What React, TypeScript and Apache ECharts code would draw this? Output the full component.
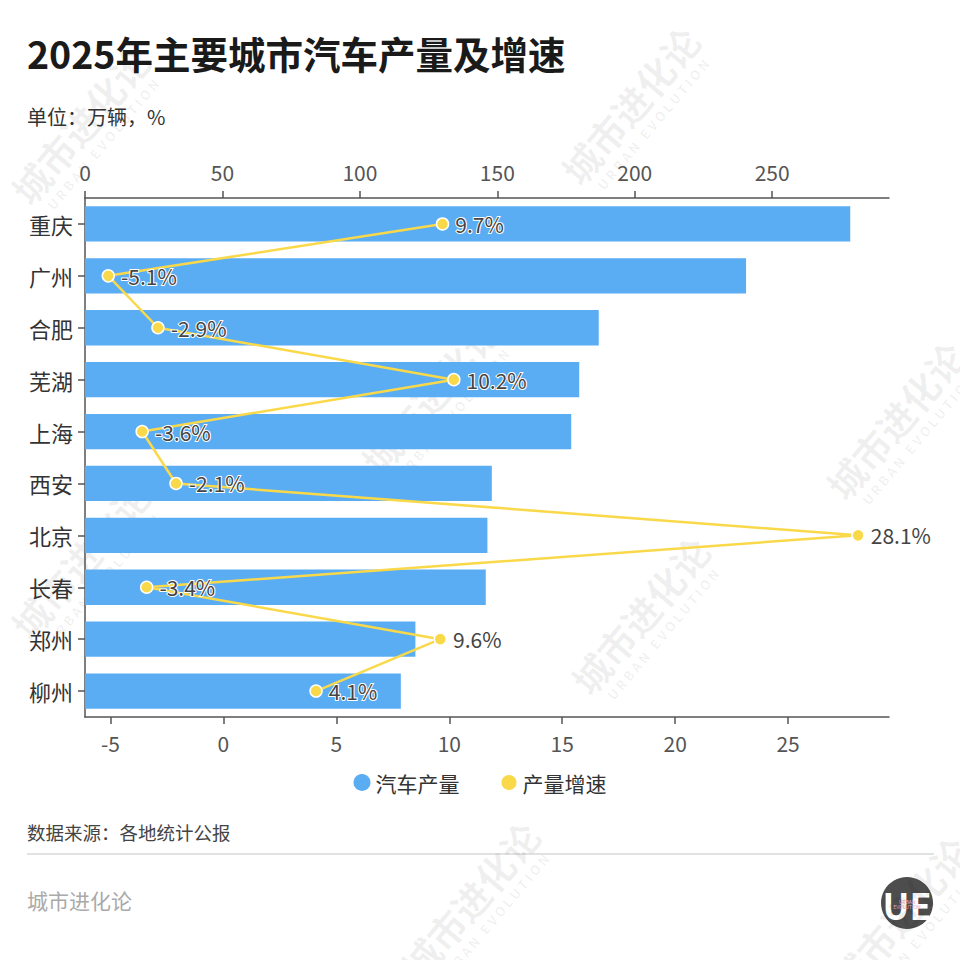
import React, { useEffect, useRef } from "react";
import * as echarts from "echarts";

const cities = ["重庆", "广州", "合肥", "芜湖", "上海", "西安", "北京", "长春", "郑州", "柳州"];
const output = [278.4, 240.5, 186.9, 179.8, 176.9, 148.0, 146.4, 145.8, 120.2, 114.9];
const growth = [9.7, -5.1, -2.9, 10.2, -3.6, -2.1, 28.1, -3.4, 9.6, 4.1];
const outputTicks = [0, 50, 100, 150, 200, 250];
const growthTicks = [-5, 0, 5, 10, 15, 20, 25];
const seriesNames = ["汽车产量", "产量增速"];

const FONT = '"Noto Sans CJK SC", "Noto Sans", sans-serif';
const BLUE = "#5aadf3";
const YELLOW = "#f9d94a";

const watermarkSpots: [number, number][] = [
  [80, 125], [630, 105], [430, 395], [895, 420], [80, 560], [640, 615], [470, 900], [900, 915],
];

function watermark(x: number, y: number) {
  return {
    type: "group",
    x,
    y,
    rotation: (50 * Math.PI) / 180,
    silent: true,
    z: 100,
    children: [
      {
        type: "text",
        x: 0,
        y: 0,
        style: {
          text: "城市进化论",
          font: `bold 38px ${FONT}`,
          fill: "rgba(0,0,0,0.06)",
          textAlign: "center",
          textVerticalAlign: "middle",
        },
      },
      {
        type: "text",
        x: 0,
        y: 30,
        style: {
          text: "U R B A N   E V O L U T I O N",
          font: `bold 13px ${FONT}`,
          fill: "rgba(0,0,0,0.06)",
          textAlign: "center",
          textVerticalAlign: "middle",
        },
      },
    ],
  };
}

export default function App() {
  const ref = useRef<HTMLDivElement>(null);
  useEffect(() => {
    document.body.style.margin = "0";
    if (!ref.current) return;
    const chart = echarts.init(ref.current, null, { renderer: "svg" });
    chart.setOption({
      animation: false,
      backgroundColor: "#ffffff",
      textStyle: { fontFamily: FONT },
      grid: { left: 85, right: 71, top: 198, bottom: 243, containLabel: false },
      legend: {
        bottom: 162,
        left: "center",
        icon: "circle",
        itemWidth: 17,
        itemHeight: 17,
        itemGap: 40,
        textStyle: { fontSize: 21, color: "#333", fontFamily: FONT },
        data: seriesNames,
      },
      xAxis: [
        {
          type: "value",
          position: "top",
          min: 0,
          max: 292.5,
          axisLine: { show: true, lineStyle: { color: "#555", width: 1.5 } },
          axisTick: { show: true, length: 7, lineStyle: { color: "#555", width: 1.5 }, customValues: outputTicks },
          axisLabel: { fontSize: 21, color: "#555", margin: 16, fontFamily: FONT, customValues: outputTicks },
          splitLine: { show: false },
        },
        {
          type: "value",
          position: "bottom",
          min: -6.13,
          max: 29.47,
          axisLine: { show: true, lineStyle: { color: "#555", width: 1.5 } },
          axisTick: { show: true, length: 7, lineStyle: { color: "#555", width: 1.5 }, customValues: growthTicks },
          axisLabel: { fontSize: 21, color: "#555", margin: 15, fontFamily: FONT, customValues: growthTicks },
          splitLine: { show: false },
        },
      ],
      yAxis: {
        type: "category",
        inverse: true,
        data: cities,
        axisLine: { show: true, lineStyle: { color: "#555", width: 1.5 } },
        axisTick: { show: true, length: 7, alignWithLabel: true, lineStyle: { color: "#555", width: 1.5 } },
        axisLabel: { fontSize: 22, color: "#333", margin: 12, fontFamily: FONT },
      },
      series: [
        {
          name: seriesNames[0],
          type: "bar",
          xAxisIndex: 0,
          data: output,
          barWidth: "68%",
          itemStyle: { color: BLUE },
          z: 2,
        },
        {
          name: seriesNames[1],
          type: "line",
          xAxisIndex: 1,
          data: growth,
          symbol: "circle",
          symbolSize: 12,
          lineStyle: { color: YELLOW, width: 2.5 },
          itemStyle: { color: YELLOW, borderColor: "#fff", borderWidth: 1.5 },
          label: {
            show: true,
            position: "right",
            distance: 6,
            formatter: "{c}%",
            fontSize: 21,
            color: "#444",
            fontFamily: FONT,
            textBorderColor: "#fff",
            textBorderWidth: 2,
          },
          z: 5,
        },
      ],
      graphic: [
        {
          type: "text",
          left: 27,
          top: 34,
          style: { text: "2025年主要城市汽车产量及增速", font: `bold 37.5px ${FONT}`, fill: "#1a1a1a" },
        },
        {
          type: "text",
          left: 27,
          top: 106,
          style: { text: "单位：万辆，%", font: `20px ${FONT}`, fill: "#333" },
        },
        {
          type: "text",
          left: 27,
          top: 823,
          style: { text: "数据来源：各地统计公报", font: `18.5px ${FONT}`, fill: "#444" },
        },
        {
          type: "line",
          shape: { x1: 27, y1: 854, x2: 934, y2: 854 },
          style: { stroke: "#e2e2e2", lineWidth: 2 },
        },
        {
          type: "text",
          left: 27,
          top: 889,
          style: { text: "城市进化论", font: `21px ${FONT}`, fill: "#aaa" },
        },
        {
          type: "circle",
          shape: { cx: 907, cy: 903, r: 26 },
          style: { fill: "#4d4d4d" },
        },
        {
          type: "text",
          x: 907,
          y: 904,
          style: {
            text: "UE",
            font: `bold 36px ${FONT}`,
            fill: "#fff",
            textAlign: "center",
            textVerticalAlign: "middle",
          },
        },
        {
          type: "text",
          x: 907,
          y: 904,
          style: {
            text: "URBAN\nEVOLUTION",
            font: `5px ${FONT}`,
            fill: "#f0a8c0",
            textAlign: "center",
            textVerticalAlign: "middle",
          },
        },
        ...watermarkSpots.map(([x, y]) => watermark(x, y)),
      ],
    });
    return () => chart.dispose();
  }, []);
  return <div ref={ref} style={{ width: 960, height: 960 }} />;
}
